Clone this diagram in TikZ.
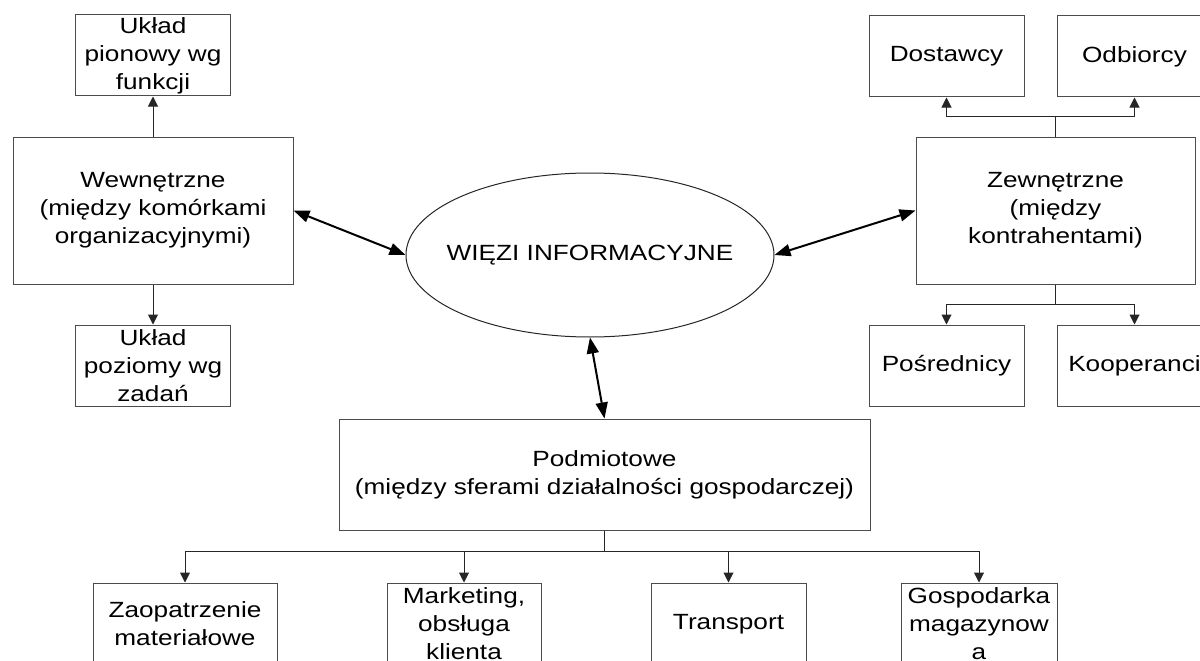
\documentclass[tikz,border=0pt]{standalone}
\usepackage{fontspec}
\setmainfont{Liberation Sans}[FakeStretch=1.19]
\usetikzlibrary{positioning,shapes.geometric,arrows.meta}

\begin{document}
\begin{tikzpicture}[
      x=1pt, y=1pt,
      node distance=40pt,
      every node/.style={font=\fontsize{22}{28}\selectfont, align=center},
      box/.style={draw=black!70, line width=1pt, inner sep=1pt, minimum width=155pt, minimum height=81pt},
      bigbox/.style={box, minimum width=280pt, minimum height=147pt},
      oval/.style={ellipse, draw=black!85, line width=1pt, minimum width=368pt, minimum height=164pt, inner xsep=-30pt, inner ysep=0pt},
      link/.style={line width=2pt, <->, >={Triangle[length=16pt,width=12pt]}},
      branch/.style={line width=1pt, draw=black!85, ->, >={Triangle[length=10pt,width=10pt]}}
    ]
    
    % Page frame
    \useasboundingbox (0,0) rectangle (1200,-661);
    \clip (0,0) rectangle (1200,-661);
    
    % Central node and the three kinds of links
    \node[oval] (wiezi) at (590,-255) {WIĘZI INFORMACYJNE};
    \node[bigbox] (wewn) at (153,-210.5) {Wewnętrzne\\(między komórkami\\organizacyjnymi)};
    \node[bigbox, minimum width=279pt] (zewn) at (1055.5,-210.5) {Zewnętrzne\\(między\\kontrahentami)};
    \node[box, minimum width=531pt, minimum height=111pt] (podm) at (604.5,-474.5) {Podmiotowe\\(między sferami działalności gospodarczej)};
    
    % Internal links
    \node[box] (pion) [above=of wewn] {Układ\\pionowy wg\\funkcji};
    \node[box] (poziom) [below=of wewn] {Układ\\poziomy wg\\zadań};
    
    % External links
    \node[box] (dost) at (946.5,-56.5) {Dostawcy};
    \node[box] (odb) [right=32pt of dost] {Odbiorcy};
    \node[box] (posr) at (946.5,-365.5) {Pośrednicy};
    \node[box] (koop) [right=32pt of posr] {Kooperanci};
    
    % Spheres of activity
    \node[box, minimum width=184pt, minimum height=82pt] (zaop) at (185,-624) {Zaopatrzenie\\materiałowe};
    \node[box, minimum width=154pt, minimum height=82pt] (mark) at (464,-624) {Marketing,\\obsługa\\klienta};
    \node[box, minimum height=82pt] (trans) at (728.5,-624) {Transport};
    \node[box, minimum width=156pt, minimum height=82pt] (gosp) at (979,-624) {Gospodarka\\magazynow\\a};
    
    % Links to the centre
    \draw[link] (wewn.east) -- (wiezi.west);
    \draw[link] (wiezi.east) -- (zewn.west);
    \draw[link] (wiezi.south) -- (podm.north);
    
    % Branches
    \draw[branch] (wewn.north) -- (pion.south);
    \draw[branch] (wewn.south) -- (poziom.north);
    \draw[branch] (zewn.north) -- ++(0,20) -| (dost.south);
    \draw[branch] (zewn.north) -- ++(0,20) -| (odb.south);
    \draw[branch] (zewn.south) -- ++(0,-20) -| (posr.north);
    \draw[branch] (zewn.south) -- ++(0,-20) -| (koop.north);
    \foreach \s in {zaop,mark,trans,gosp}
      \draw[branch] (podm.south) -- ++(0,-21) -| (\s.north);
    
    \end{tikzpicture}
\end{document}
